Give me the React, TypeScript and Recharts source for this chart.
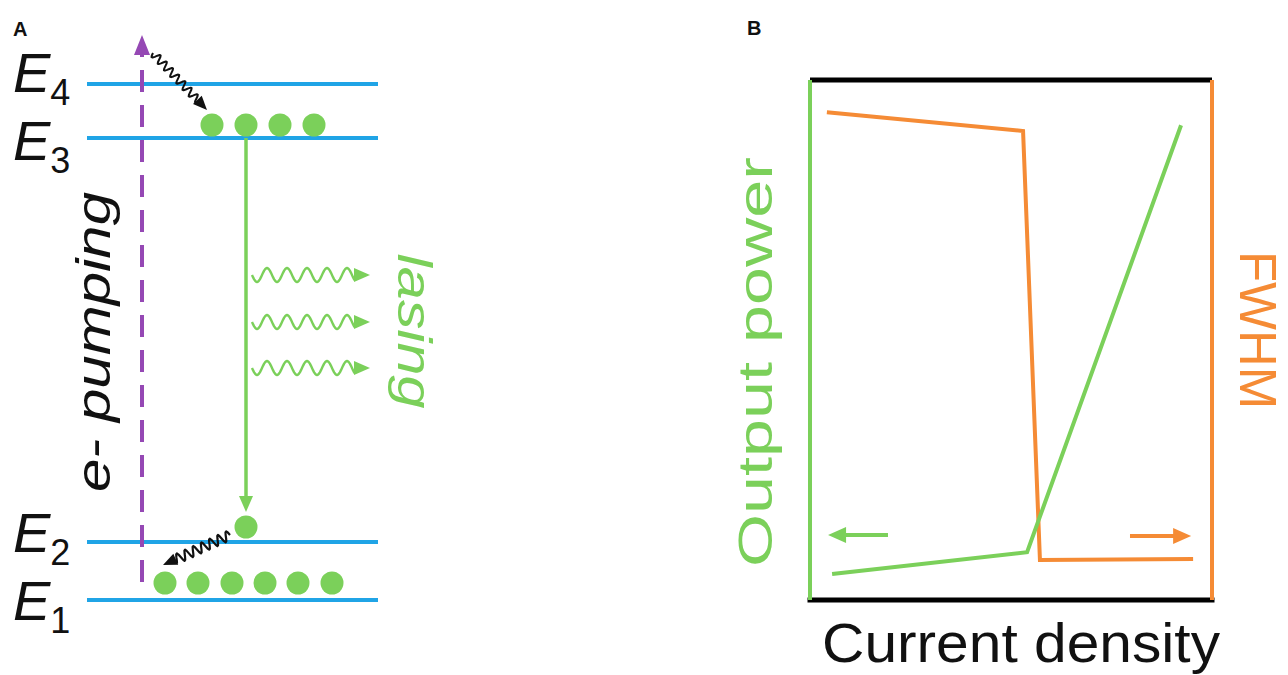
import React from 'react'
import {
  ComposedChart, Line, Scatter, XAxis, YAxis, ReferenceLine, ReferenceDot
} from 'recharts'

const GREEN = '#7bd05a'
const ORANGE = '#f58b35'
const BLUE = '#20a4e6'
const PURPLE = '#9548b4'
const INK = '#111111'
const FONT = '"Liberation Sans", Arial, sans-serif'

// ---- panel A: energy level scheme (arbitrary units) ----
const levelNames = ['E1', 'E2', 'E3', 'E4']
const levelEnergy = [0, 5.8, 46.2, 51.6]
const levelSpan = [8.7, 37.8]
const upperDotsX = [21.2, 24.6, 28.0, 31.4]
const upperDotsE = 47.5
const lowerDotsX = [16.5, 19.8, 23.2, 26.5, 29.8, 33.2]
const lowerDotsE = 1.7
const relaxedDot = { x: 24.6, y: 7.3 }
const pumpArrow = [{ x: 14.2, y: 1.8 }, { x: 14.2, y: 56.5 }]
const lasingArrow = [{ x: 24.6, y: 46.2 }, { x: 24.6, y: 8.8 }]
const topRelax = [{ x: 15.3, y: 54.7 }, { x: 20.7, y: 49.0 }]
const bottomRelax = [{ x: 23.0, y: 6.5 }, { x: 16.3, y: 3.5 }]
const photonE = [32.5, 27.8, 23.2]
const photonX = [25.2, 37.0]

// ---- panel B: output power / FWHM vs current density ----
const powerCurrent = [5.5, 54, 92.3]
const powerValue = [5, 9.2, 91.3]
const fwhmCurrent = [4.2, 53, 57.2, 95.3]
const fwhmValue = [93.8, 90.2, 7.7, 7.9]

const upperDots = upperDotsX.map(x => ({ x, y: upperDotsE }))
const lowerDots = [...lowerDotsX.map(x => ({ x, y: lowerDotsE })), relaxedDot]
const powerData = powerCurrent.map((x, i) => ({ x, y: powerValue[i] }))
const fwhmData = fwhmCurrent.map((x, i) => ({ x, y: fwhmValue[i] }))

type ArrowOpts = { color: string; width: number; head: number; headW: number; dash?: string; amp?: number; wave?: number }

// arrow (optionally dashed or wavy) between the reference segment's end points
const arrow = (o: ArrowOpts) => (p: any) => {
  const { x1, y1, x2, y2 } = p
  const dx = x2 - x1, dy = y2 - y1
  const len = Math.hypot(dx, dy) || 1
  const ux = dx / len, uy = dy / len, nx = -uy, ny = ux
  const shaft = len - o.head + 1
  let d = `M${x1},${y1}L${x1 + ux * shaft},${y1 + uy * shaft}`
  if (o.amp && o.wave) {
    const pts: string[] = []
    for (let t = 0; t <= shaft; t += 1) {
      const off = o.amp * Math.sin((2 * Math.PI * t) / o.wave)
      pts.push(`${x1 + ux * t + nx * off},${y1 + uy * t + ny * off}`)
    }
    d = 'M' + pts.join('L')
  }
  const bx = x2 - ux * o.head, by = y2 - uy * o.head
  const hw = o.headW / 2
  return (
    <g>
      <path d={d} fill="none" stroke={o.color} strokeWidth={o.width} strokeDasharray={o.dash} strokeLinejoin="round" />
      <polygon points={`${x2},${y2} ${bx + nx * hw},${by + ny * hw} ${bx - nx * hw},${by - ny * hw}`} fill={o.color} />
    </g>
  )
}

const levelLift: Record<string, number> = { E1: 1, E2: 11, E3: -1, E4: 13 }

function LevelTick(p: any) {
  const name = levelNames[levelEnergy.indexOf(p.payload.value)]
  const base = p.y + 21 - levelLift[name]
  return (
    <text x={p.x - 72} y={base} fontFamily={FONT} fill={INK}>
      <tspan fontSize={56} fontStyle="italic">E</tspan>
      <tspan fontSize={36} dy={13}>{name.slice(1)}</tspan>
    </text>
  )
}

const rotatedText = (txt: string, angle: number, size: number, length: number, color: string, italic = false) => (p: any) => (
  <text
    transform={`translate(${p.cx},${p.cy}) rotate(${angle})`}
    textAnchor="middle" fontFamily={FONT} fontSize={size} fill={color}
    fontStyle={italic ? 'italic' : 'normal'}
    textLength={length} lengthAdjust="spacingAndGlyphs"
  >{txt}</text>
)

function PanelA() {
  return (
    <ComposedChart width={460} height={675} margin={{ top: 0, right: 0, bottom: 0, left: 0 }}>
      <XAxis type="number" dataKey="x" domain={[8.5, 46]} allowDataOverflow hide />
      <YAxis type="number" dataKey="y" domain={[-7.5, 60]} allowDataOverflow width={85}
        ticks={levelEnergy} tick={<LevelTick />} tickSize={0} tickMargin={0}
        axisLine={false} tickLine={false} interval={0} />
      {levelEnergy.map(e => (
        <ReferenceLine key={e} segment={[{ x: levelSpan[0], y: e }, { x: levelSpan[1], y: e }]}
          stroke={BLUE} strokeWidth={4} />
      ))}
      <ReferenceLine segment={pumpArrow}
        shape={arrow({ color: PURPLE, width: 4, head: 20, headW: 16, dash: '22 13' })} />
      <ReferenceLine segment={lasingArrow}
        shape={arrow({ color: GREEN, width: 3.5, head: 16, headW: 14 })} />
      <ReferenceLine segment={topRelax}
        shape={arrow({ color: INK, width: 2, head: 14, headW: 12, amp: 4, wave: 9 })} />
      <ReferenceLine segment={bottomRelax}
        shape={arrow({ color: INK, width: 2.2, head: 14, headW: 12, amp: 5, wave: 9 })} />
      {photonE.map(e => (
        <ReferenceLine key={e} segment={[{ x: photonX[0], y: e }, { x: photonX[1], y: e }]}
          shape={arrow({ color: GREEN, width: 2.4, head: 16, headW: 14, amp: 7, wave: 20 })} />
      ))}
      <Scatter data={upperDots} dataKey="y" isAnimationActive={false}
        shape={(p: any) => <circle cx={p.cx} cy={p.cy} r={11.5} fill={GREEN} />} />
      <Scatter data={lowerDots} dataKey="y" isAnimationActive={false}
        shape={(p: any) => <circle cx={p.cx} cy={p.cy} r={11.5} fill={GREEN} />} />
      <ReferenceDot x={11.0} y={25.8} r={0} shape={rotatedText('e- pumping', -90, 48, 300, INK, true)} />
      <ReferenceDot x={39.8} y={26.9} r={0} shape={rotatedText('lasing', 90, 48, 155, GREEN, true)} />
    </ComposedChart>
  )
}

function PanelB() {
  return (
    <ComposedChart width={588} height={675} margin={{ top: 80, right: 0, bottom: 0, left: 0 }}>
      <XAxis type="number" dataKey="x" domain={[0, 100]} allowDataOverflow height={75}
        tick={false} tickLine={false}
        axisLine={{ stroke: '#000', strokeWidth: 5, strokeLinecap: 'square' }}
        label={(p: any) => (
          <text x={p.viewBox.x + p.viewBox.width / 2 + 10} y={p.viewBox.y + 62}
            textAnchor="middle" fontFamily={FONT} fontSize={56} fill={INK}
            textLength={398} lengthAdjust="spacingAndGlyphs">Current density</text>
        )} />
      <YAxis yAxisId="power" type="number" dataKey="y" domain={[0, 100]} allowDataOverflow width={110}
        tick={false} tickLine={false}
        axisLine={{ stroke: GREEN, strokeWidth: 4 }}
        label={(p: any) => (
          <text transform={`translate(${p.viewBox.x + 72},${p.viewBox.y + p.viewBox.height / 2 + 22}) rotate(-90)`}
            textAnchor="middle" fontFamily={FONT} fontSize={49} fill={GREEN}
            textLength={410} lengthAdjust="spacingAndGlyphs">Output power</text>
        )} />
      <YAxis yAxisId="fwhm" orientation="right" type="number" dataKey="y" domain={[0, 100]} allowDataOverflow width={76}
        tick={false} tickLine={false}
        axisLine={{ stroke: ORANGE, strokeWidth: 4 }}
        label={(p: any) => (
          <text transform={`translate(${p.viewBox.x + 28},${p.viewBox.y + p.viewBox.height / 2 - 10}) rotate(90)`}
            textAnchor="middle" fontFamily={FONT} fontSize={52} fill={ORANGE}
            textLength={158} lengthAdjust="spacingAndGlyphs">FWHM</text>
        )} />
      <ReferenceLine yAxisId="power" y={100} stroke="#000" strokeWidth={5} />
      <Line yAxisId="fwhm" data={fwhmData} dataKey="y" type="linear" stroke={ORANGE} strokeWidth={4}
        dot={false} isAnimationActive={false} />
      <Line yAxisId="power" data={powerData} dataKey="y" type="linear" stroke={GREEN} strokeWidth={4}
        dot={false} isAnimationActive={false} />
      <ReferenceLine yAxisId="power" segment={[{ x: 19.4, y: 12.5 }, { x: 4.5, y: 12.5 }]}
        shape={arrow({ color: GREEN, width: 4, head: 18, headW: 16 })} />
      <ReferenceLine yAxisId="fwhm" segment={[{ x: 79.6, y: 12.3 }, { x: 94.8, y: 12.3 }]}
        shape={arrow({ color: ORANGE, width: 4, head: 18, headW: 16 })} />
    </ComposedChart>
  )
}

const panelLetter: React.CSSProperties = {
  position: 'absolute', fontFamily: FONT, fontWeight: 'bold', fontSize: 20, lineHeight: '20px', color: INK
}

export default function App() {
  return (
    <div style={{ position: 'absolute', left: 0, top: 0, width: 1288, height: 675, background: '#fff', overflow: 'hidden' }}>
      <div style={{ position: 'absolute', left: 0, top: 0 }}><PanelA /></div>
      <div style={{ position: 'absolute', left: 700, top: 0 }}><PanelB /></div>
      <div style={{ ...panelLetter, left: 13, top: 19 }}>A</div>
      <div style={{ ...panelLetter, left: 747, top: 18 }}>B</div>
    </div>
  )
}
